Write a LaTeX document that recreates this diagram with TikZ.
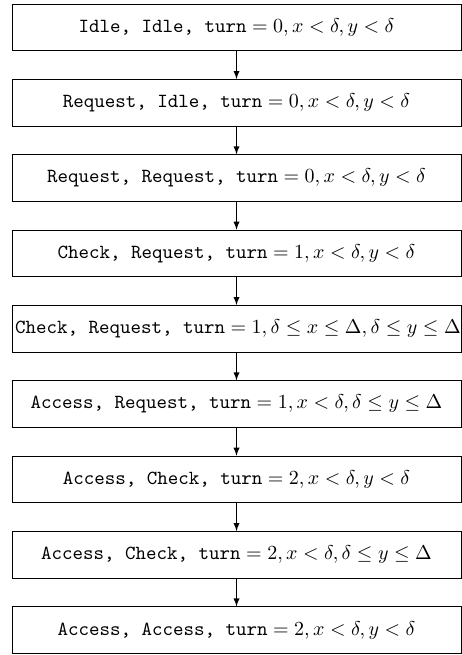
\documentclass[tikz,border=0pt]{standalone}

\begin{document}
\begin{tikzpicture}[
    state/.style={draw, text width=7.784cm, align=flush center, minimum height=0.817cm,
                  inner xsep=1.5pt, inner ysep=0pt},
    trans/.style={-latex}
]
% Fix the page size
\useasboundingbox (0, 0) rectangle (8.118, -11.51);

% States of the protocol, top to bottom
\node[state] (s1) at (4.156, -0.480) {$\texttt{Idle, Idle, turn} = 0, x < \delta, y < \delta$};
\node[state] (s2) at (4.156, -1.804) {$\texttt{Request, Idle, turn} = 0, x < \delta, y < \delta$};
\node[state] (s3) at (4.156, -3.128) {$\texttt{Request, Request, turn} = 0, x < \delta, y < \delta$};
\node[state] (s4) at (4.156, -4.452) {$\texttt{Check, Request, turn} = 1, x < \delta, y < \delta$};
\node[state] (s5) at (4.156, -5.776) {\mbox{$\texttt{Check, Request, turn} = 1, \delta \le x \le \Delta, \delta \le y \le \Delta$}};
\node[state] (s6) at (4.156, -7.100) {$\texttt{Access, Request, turn} = 1, x < \delta, \delta \le y \le \Delta$};
\node[state] (s7) at (4.156, -8.424) {$\texttt{Access, Check, turn} = 2, x < \delta, y < \delta$};
\node[state] (s8) at (4.156, -9.748) {$\texttt{Access, Check, turn} = 2, x < \delta, \delta \le y \le \Delta$};
\node[state] (s9) at (4.156, -11.072) {$\texttt{Access, Access, turn} = 2, x < \delta, y < \delta$};

% Transitions
\draw[trans] (s1) -- (s2);
\draw[trans] (s2) -- (s3);
\draw[trans] (s3) -- (s4);
\draw[trans] (s4) -- (s5);
\draw[trans] (s5) -- (s6);
\draw[trans] (s6) -- (s7);
\draw[trans] (s7) -- (s8);
\draw[trans] (s8) -- (s9);
\end{tikzpicture}
\end{document}
